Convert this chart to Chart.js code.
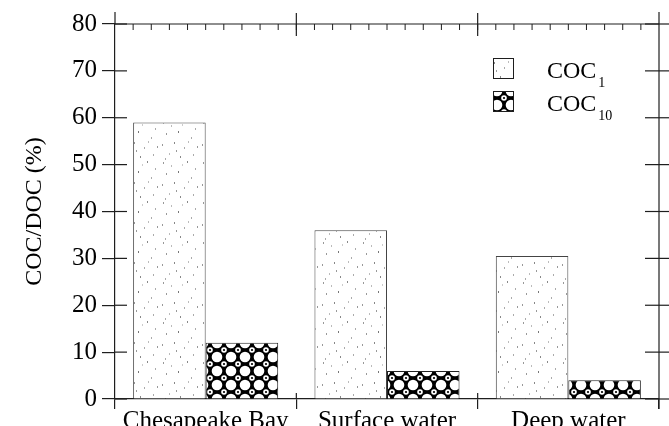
<!DOCTYPE html>
<html><head><meta charset="utf-8">
<script src="https://cdn.jsdelivr.net/npm/chart.js@4.4.0/dist/chart.umd.min.js"></script>
<style>html,body{margin:0;padding:0;background:#fff}#wrap{width:669px;height:426px}</style>
</head><body><div id="wrap"><canvas id="c" width="669" height="426"></canvas></div>
<script>
const categories = ['Chesapeake Bay', 'Surface water', 'Deep water'];
const coc1 = [59, 36, 30.5];
const coc10 = [12, 6, 4];
const seriesBase = ['COC', 'COC'];
const seriesSub = ['1', '10'];
const yTicks = [0, 10, 20, 30, 40, 50, 60, 70, 80];
const yTitle = 'COC/DOC (%)';

const FONT = 'Liberation Serif';
const INK = '#1e1e1e';

function stipplePattern() {
  const s = 40;
  const c = document.createElement('canvas'); c.width = s; c.height = s;
  const g = c.getContext('2d');
  g.fillStyle = '#fff'; g.fillRect(0, 0, s, s);
  const pts = [[3,2,'#999'],[11,5,'#bbb'],[27,1,'#888'],[35,8,'#aaa'],[6,13,'#999'],[18,11,'#777'],
    [31,17,'#aaa'],[2,24,'#999'],[14,22,'#888'],[24,27,'#aaa'],[37,26,'#999'],[9,33,'#bbb'],
    [20,36,'#888'],[33,34,'#aaa'],[22,4,'#ccc'],[16,30,'#999'],[28,21,'#bbb'],[5,38,'#aaa']];
  pts.forEach(p => { g.fillStyle = p[2]; g.fillRect(p[0], p[1], 1, 2); });
  return g.createPattern(c, 'repeat');
}
function circlePattern() {
  const s = 14; const c = document.createElement('canvas'); c.width = s; c.height = s;
  const g = c.getContext('2d');
  g.fillStyle = '#000'; g.fillRect(0, 0, s, s);
  g.fillStyle = '#fff'; g.beginPath(); g.arc(s/2, s/2, 5.3, 0, Math.PI*2); g.fill();
  [[0,0],[s,0],[0,s],[s,s]].forEach(p => {
    g.fillStyle = '#fff'; g.beginPath(); g.arc(p[0], p[1], 2.8, 0, Math.PI*2); g.fill();
    g.fillStyle = '#000'; g.beginPath(); g.arc(p[0], p[1], 1.1, 0, Math.PI*2); g.fill();
  });
  return g.createPattern(c, 'repeat');
}
const fills = [stipplePattern(), circlePattern()];

function line(ctx, x1, y1, x2, y2) { ctx.beginPath(); ctx.moveTo(x1, y1); ctx.lineTo(x2, y2); ctx.stroke(); }

const framePlugin = {
  id: 'frame',
  afterDraw(chart) {
    const {ctx, chartArea: a, scales: {x, y}} = chart;
    ctx.save();
    ctx.strokeStyle = INK; ctx.lineWidth = 1.2;
    line(ctx, a.left, a.top, a.right, a.top);
    line(ctx, a.right, a.top - 12, a.right, a.bottom + 10);
    line(ctx, a.left, a.top - 12, a.left, a.top);
    yTicks.forEach(v => {
      const py = y.getPixelForValue(v);
      line(ctx, a.left, py, a.left + 12, py);
      line(ctx, a.right - 14, py, a.right + 10, py);
    });
    const n = categories.length;
    const step = x.getPixelForValue(1) - x.getPixelForValue(0);
    const b0 = x.getPixelForValue(0) - step / 2;
    for (let i = 1; i < n; i++) {
      const b = b0 + i * step;
      line(ctx, b, a.top - 11, b, a.top + 12);
      line(ctx, b, a.bottom - 6, b, a.bottom);
    }
    ctx.lineWidth = 1;
    for (let k = 1; k < n * 10; k++) {
      const px = b0 + k * step / 10;
      line(ctx, px, a.top, px, a.top + 6);
    }
    ctx.restore();
  }
};

const legendPlugin = {
  id: 'subLegend',
  afterDraw(chart) {
    const {ctx, chartArea: a} = chart;
    ctx.save();
    chart.data.datasets.forEach((ds, i) => {
      const bx = a.right - 166, by = a.top + 34 + i * 33;
      ctx.fillStyle = ds.backgroundColor;
      ctx.fillRect(bx, by, 21, 21);
      ctx.strokeStyle = INK; ctx.lineWidth = 1;
      ctx.strokeRect(bx + 0.5, by + 0.5, 20, 20);
      ctx.fillStyle = '#000';
      ctx.textBaseline = 'alphabetic'; ctx.textAlign = 'left';
      ctx.font = '24px "' + FONT + '"';
      const tx = bx + 54, ty = by + 20;
      ctx.fillText(seriesBase[i], tx, ty);
      const w = ctx.measureText(seriesBase[i]).width;
      ctx.font = '14px "' + FONT + '"';
      ctx.fillText(seriesSub[i], tx + w + 2, ty + 9);
    });
    ctx.restore();
  }
};

new Chart(document.getElementById('c'), {
  type: 'bar',
  data: {
    labels: categories,
    datasets: [
      { label: seriesBase[0] + seriesSub[0], data: coc1, backgroundColor: fills[0], borderColor: '#444', borderWidth: 1,
        categoryPercentage: 0.8, barPercentage: 1 },
      { label: seriesBase[1] + seriesSub[1], data: coc10, backgroundColor: fills[1], borderColor: '#222', borderWidth: 1,
        categoryPercentage: 0.8, barPercentage: 1 }
    ]
  },
  options: {
    responsive: false,
    devicePixelRatio: 1,
    animation: false,
    layout: { padding: { top: 24, right: 10, left: 0, bottom: 0 } },
    plugins: { legend: { display: false }, tooltip: { enabled: false } },
    scales: {
      x: {
        offset: true,
        grid: { display: true, offset: true, drawOnChartArea: false, tickLength: 10, color: INK, lineWidth: 1.2 },
        border: { display: true, color: INK, width: 1.2 },
        ticks: { font: { family: FONT, size: 25 }, color: '#000', padding: -3, maxRotation: 0, autoSkip: false },
        afterFit(s) { s.height = 27; }
      },
      y: {
        min: 0, max: 80,
        afterBuildTicks(s) { s.ticks = yTicks.map(v => ({ value: v })); },
        ticks: { font: { family: FONT, size: 25 }, color: '#000', padding: 5 },
        grid: { display: true, drawOnChartArea: false, tickLength: 13, color: INK, lineWidth: 1.2 },
        border: { display: true, color: INK, width: 1.2 },
        title: { display: true, text: yTitle, font: { family: FONT, size: 24 }, color: '#000', padding: { top: 20, bottom: 0 } },
        afterFit(s) { s.width = 115; }
      }
    }
  },
  plugins: [framePlugin, legendPlugin]
});
</script>
</body></html>
